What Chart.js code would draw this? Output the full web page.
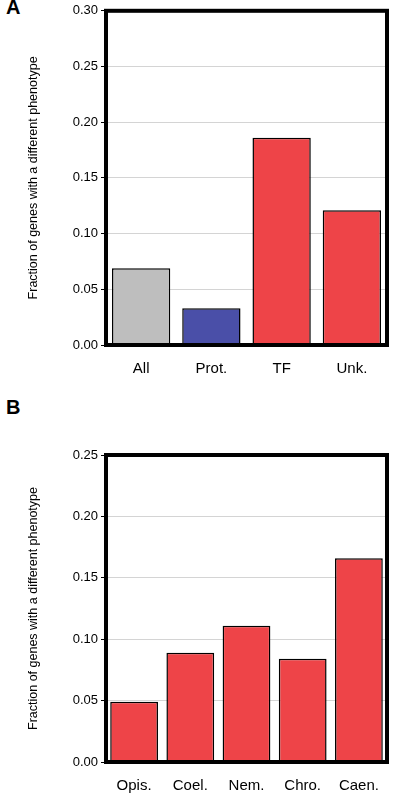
<!DOCTYPE html>
<html>
<head>
<meta charset="utf-8">
<script src="https://cdn.jsdelivr.net/npm/chart.js@4/dist/chart.umd.min.js"></script>
<style>
  body { margin: 0; background: #fff; font-family: "Liberation Sans", Arial, sans-serif; }
  .panel { position: absolute; left: 0; width: 406px; }
  .lbl { position: absolute; left: 6px; font-weight: bold; font-size: 20px; }
</style>
</head>
<body>
<div class="lbl" style="top:-4px">A</div>
<div class="panel" style="top:0;height:380px"><canvas id="chartA"></canvas></div>
<div class="lbl" style="top:396px">B</div>
<div class="panel" style="top:440px;height:360px"><canvas id="chartB"></canvas></div>
<script>
const categoriesA = ["All", "Prot.", "TF", "Unk."];
const valuesA = [0.069, 0.033, 0.186, 0.121];
const colorsA = ["#bebebe", "#4a4fa8", "#ee4448", "#ee4448"];

const categoriesB = ["Opis.", "Coel.", "Nem.", "Chro.", "Caen."];
const valuesB = [0.049, 0.089, 0.111, 0.084, 0.166];
const colorsB = ["#ee4448", "#ee4448", "#ee4448", "#ee4448", "#ee4448"];

const yTitle = "Fraction of genes with a different phenotype";

// heavy black frame around the plot
const frame = {
  id: "frame",
  afterDraw(chart) {
    const a = chart.chartArea, c = chart.ctx;
    c.save();
    c.lineWidth = 4;
    c.strokeStyle = "#000";
    c.strokeRect(a.left, a.top, a.right - a.left, a.bottom - a.top);
    c.restore();
  }
};

function makeChart(id, labels, data, colors, yMax, padTop, xHeight, barPct) {
  return new Chart(document.getElementById(id), {
    type: "bar",
    data: {
      labels: labels,
      datasets: [{
        data: data,
        backgroundColor: colors,
        borderColor: "#000",
        borderWidth: 1.5,
        barPercentage: barPct,
        categoryPercentage: 1
      }]
    },
    options: {
      maintainAspectRatio: false,
      animation: false,
      layout: { padding: { left: 22, right: 19, top: padTop, bottom: 0 } },
      plugins: { legend: { display: false }, tooltip: { enabled: false } },
      scales: {
        x: {
          grid: { display: false },
          border: { display: false },
          ticks: { color: "#000", font: { size: 15, family: "Liberation Sans" }, padding: 7 },
          afterFit(s) { s.height = xHeight; }
        },
        y: {
          min: 0, max: yMax,
          ticks: {
            stepSize: 0.05, color: "#000",
            font: { size: 13, family: "Liberation Sans" },
            callback: v => v.toFixed(2)
          },
          grid: { color: "#d4d4d4", drawTicks: true, tickColor: "#000", tickLength: 5 },
          border: { display: false },
          title: { display: true, text: yTitle, color: "#000", font: { size: 12.5, family: "Liberation Sans" } },
          afterFit(s) { s.width = 84; }
        }
      }
    },
    plugins: [frame]
  });
}

makeChart("chartA", categoriesA, valuesA, colorsA, 0.30, 10, 35, 0.83);
makeChart("chartB", categoriesB, valuesB, colorsB, 0.25, 15, 38, 0.85);
</script>
</body>
</html>
